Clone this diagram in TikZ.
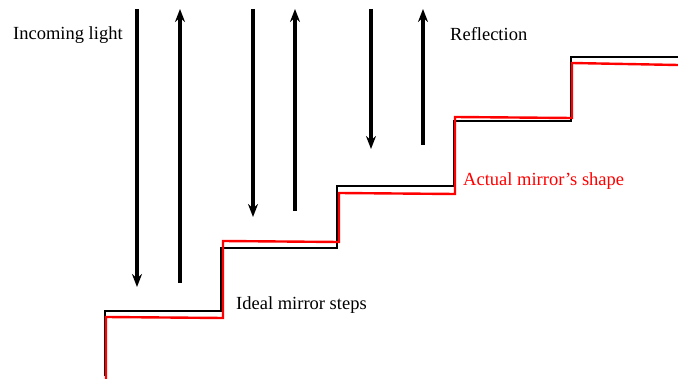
\documentclass[tikz,border=0pt]{standalone}
\usepackage{fontspec}
\setmainfont{Liberation Serif}
\usetikzlibrary{arrows.meta}

\begin{document}
\begin{tikzpicture}[x=1pt, y=-1pt, >={Stealth[length=13pt, width=10pt]},
    every node/.style={inner sep=0pt, anchor=base west, font=\fontsize{18.5}{22}\selectfont}]
    \useasboundingbox (0,0) rectangle (678,379);
    % ideal steps
    \draw[line width=2pt] (105,376) -- (105,311) -- (221,311) -- (221,248) -- (337,248)
        -- (337,186) -- (454,186) -- (454,121) -- (571,121) -- (571,57) -- (678,57);
    % actual shape
    \draw[red, line width=2.4pt] (106,379) -- (106,317) -- (223,318) -- (223,241) -- (339,242)
        -- (339,193) -- (455,194) -- (455,117) -- (572,118) -- (572,63) -- (678,65);
    \foreach \dx/\dy/\ux/\uy in {137/287/180/283, 253/217/295/211, 371/149/423/145}
    {
        \draw[->, line width=4pt] (\dx,9) -- (\dx,\dy);
        \draw[->, line width=4pt] (\ux,\uy) -- (\ux,9);
    }
    \node (incoming) at (13,40) {Incoming light};
    \node (reflection) at (450,40.5) {Reflection};
    \node (ideal) at (236,310) {Ideal mirror steps};
    \node[red] (actual) at (463,186) {Actual mirror’s shape};
\end{tikzpicture}
\end{document}
